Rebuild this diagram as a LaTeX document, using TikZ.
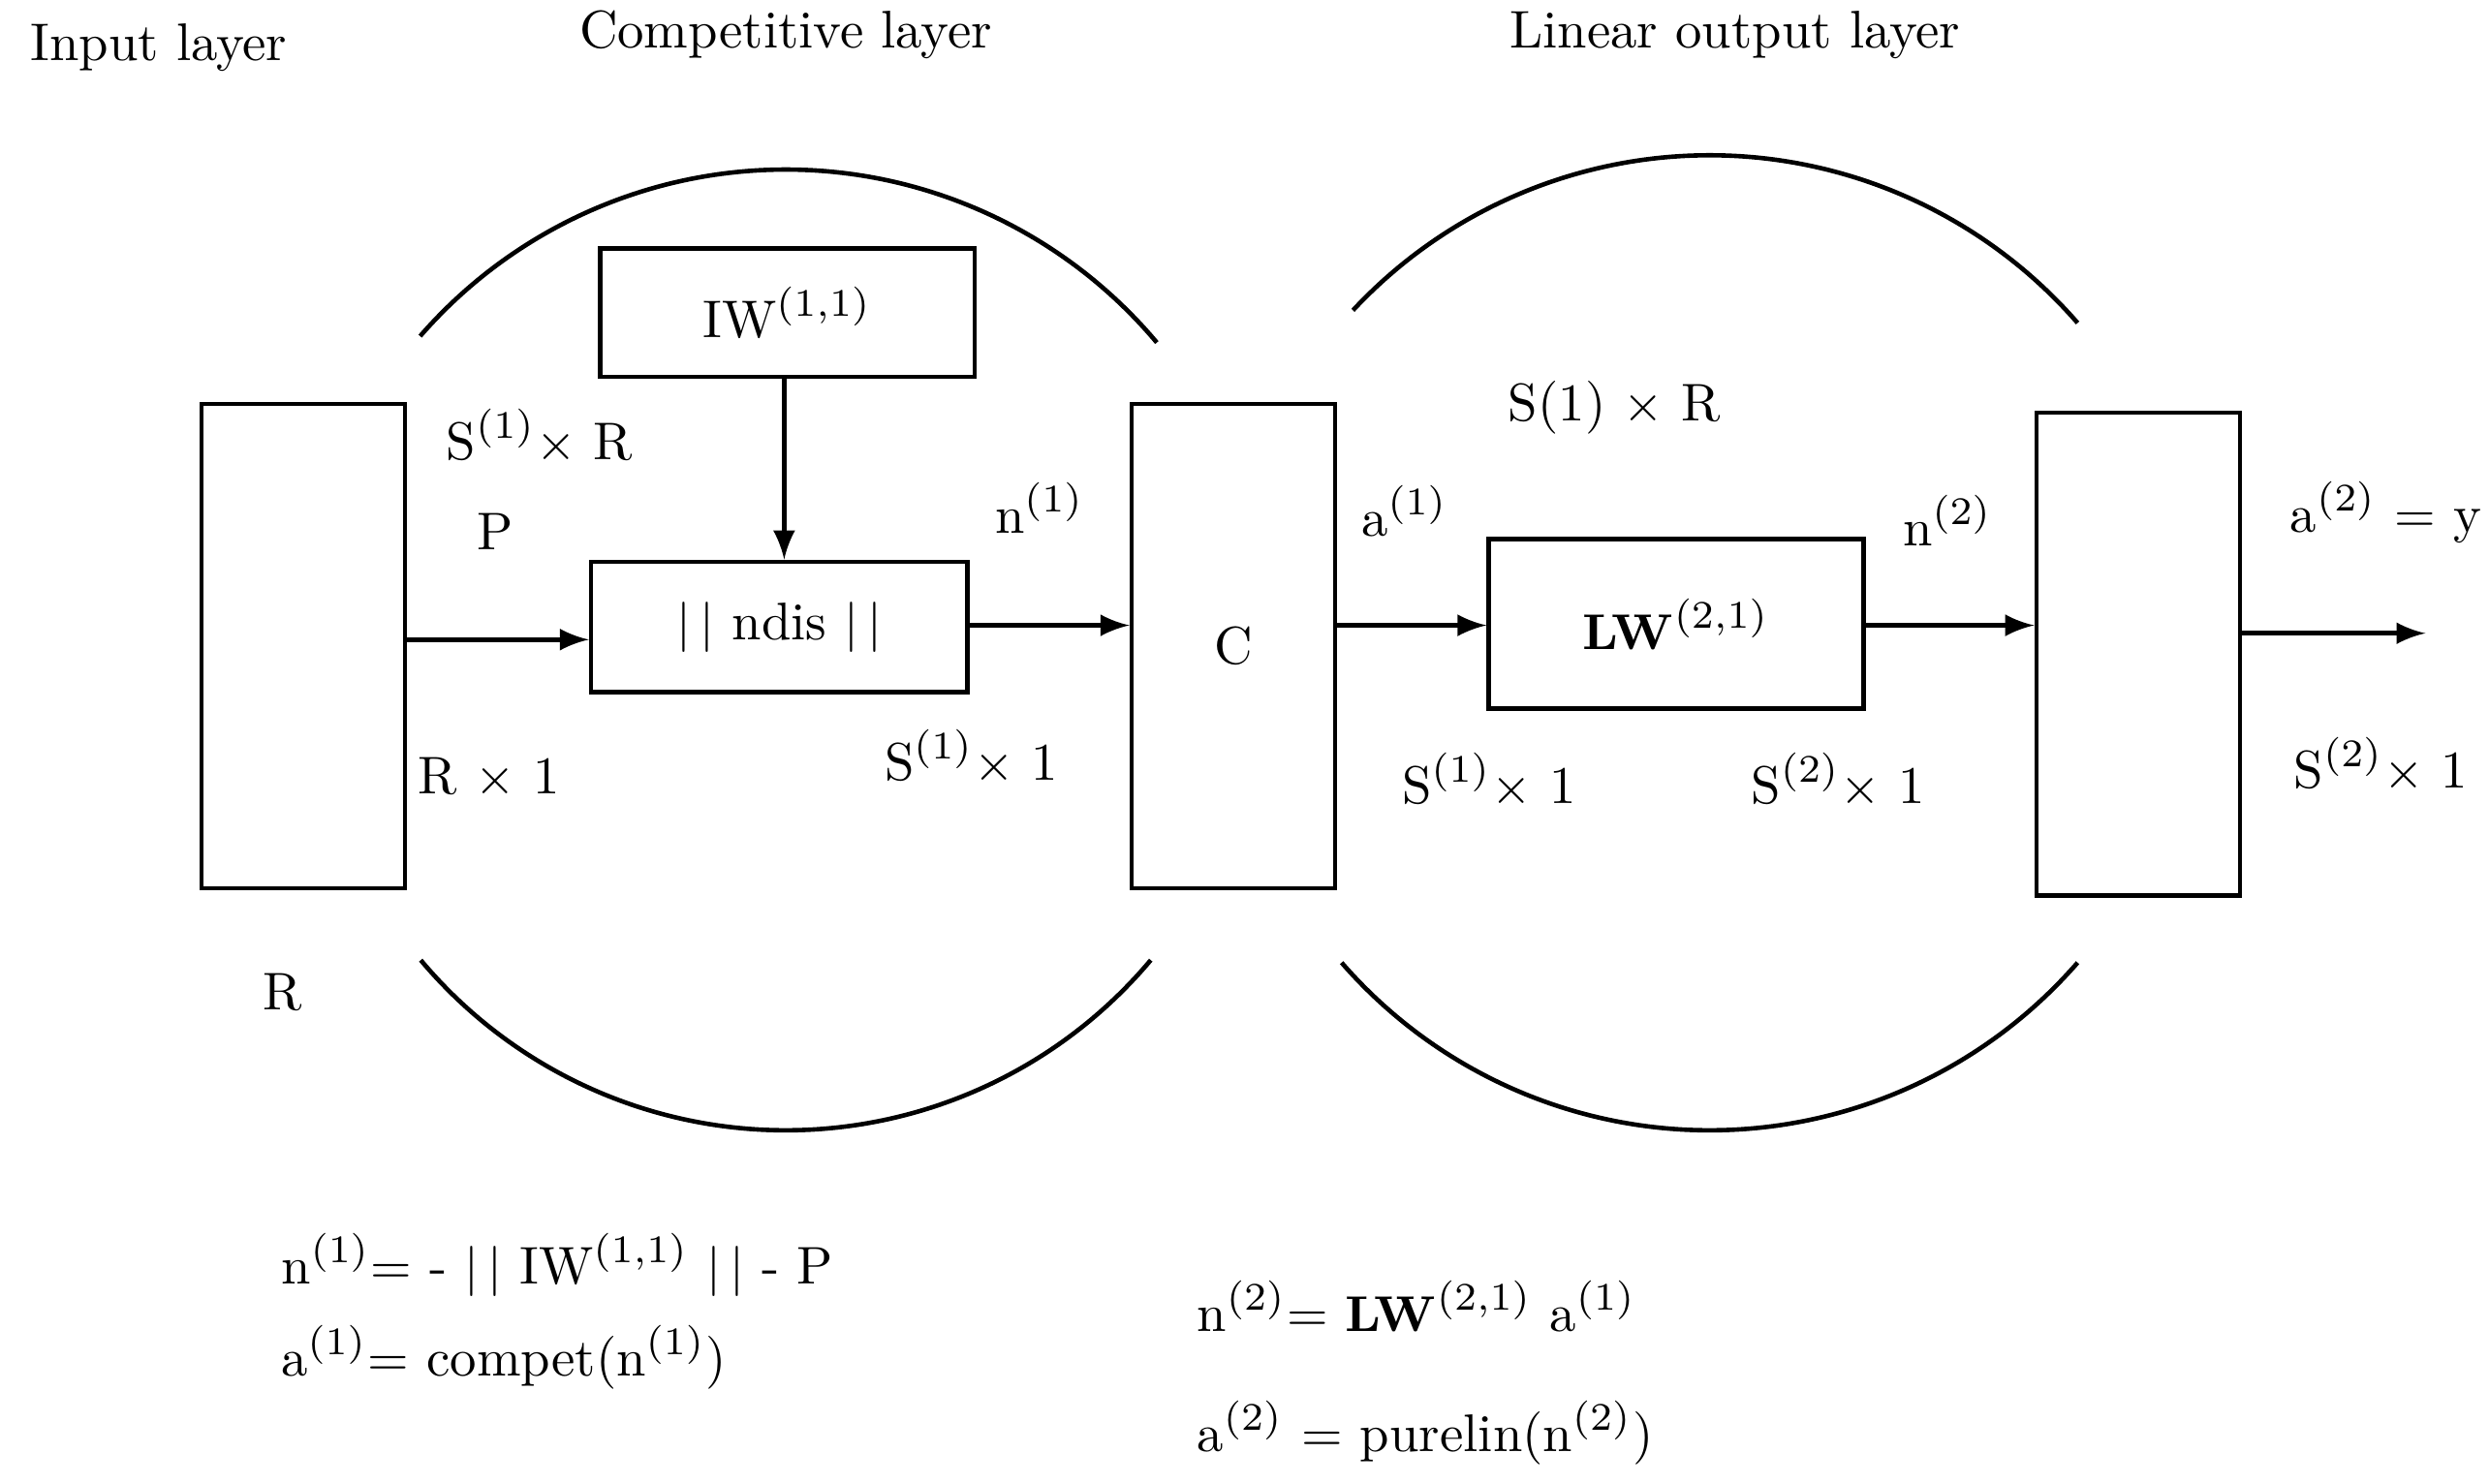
\documentclass[tikz,border=0pt]{standalone}
\usepackage{amsmath}
\usepackage{tikz}
\usetikzlibrary{positioning}

\begin{document}
\begin{tikzpicture}[x=0.01cm, y=-0.01cm, font=\fontsize{9.5}{11}\selectfont,
        box/.style={draw, thick, inner sep=0pt},
        lbl/.style={inner sep=1pt},
        arr/.style={->, >=latex, thick}]
        \useasboundingbox (0,0) rectangle (1568,935);
        % layers
        \node[box, minimum width=1.28cm, minimum height=3.05cm] (in)  at (191,407) {};
        \node[box, minimum width=2.36cm, minimum height=0.81cm] (iw)   at (496,197) {IW$^{(1,1)}$};
        \node[box, minimum width=2.37cm, minimum height=0.82cm] (ndis) at (491,395) {$|\,|$ ndis $|\,|$};
        \node[box, minimum width=1.28cm, minimum height=3.05cm] (c)   at (777,407) {C};
        \node[box, minimum width=2.36cm, minimum height=1.07cm] (lw)   at (1056,393) {$\mathbf{LW}^{(2,1)}$};
        \node[box, minimum width=1.28cm, minimum height=3.04cm] (out) at (1347,412) {};
        \coordinate (y) at (1528,399);
        \coordinate (cl) at (495,412);
        \coordinate (cr) at (1077,405);

        \draw[arr] (in.east |- 0,403) -- (ndis.west |- 0,403);
        \draw[arr] (iw.south -| 494,0) -- (ndis.north -| 494,0);
        \draw[arr] (ndis.east |- 0,394) -- (c.west |- 0,394);
        \draw[arr] (c.east |- 0,394) -- (lw.west |- 0,394);
        \draw[arr] (lw.east |- 0,394) -- (out.west |- 0,394);
        \draw[arr] (out.east |- y) -- (y);

        % arcs
        \draw[thick] (cl) ++(139:3.05cm) arc[start angle=139, end angle=40, radius=3.05cm];
        \draw[thick] (cl) ++(220:3.0cm) arc[start angle=220, end angle=320, radius=3.0cm];
        \draw[thick] (cr) ++(137:3.07cm) arc[start angle=137, end angle=41, radius=3.07cm];
        \draw[thick] (cr) ++(221:3.07cm) arc[start angle=221, end angle=319, radius=3.07cm];

        % labels
        \node[lbl] (t1) at (100,30) {Input layer};
        \node[lbl] (t2) at (495,22) {Competitive layer};
        \node[lbl] (t3) at (1093,22) {Linear output layer};
        \node[lbl] (l1) at (340,275) {S$^{(1)}\times$ R};
        \node[lbl] (l2) at (312,335) {P};
        \node[lbl] (l3) at (655,320) {n$^{(1)}$};
        \node[lbl] (l4) at (308,490) {R $\times$ 1};
        \node[lbl] (l5) at (612,477) {S$^{(1)}\times$ 1};
        \node[lbl] (l6) at (178,625) {R};
        \node[lbl] (l7) at (885,322) {a$^{(1)}$};
        \node[lbl] (l8) at (1017,257) {S(1) $\times$ R};
        \node[lbl] (l9) at (1227,328) {n$^{(2)}$};
        \node[lbl] (l10) at (1503,323) {a$^{(2)}$ = y};
        \node[lbl] (l11) at (938,492) {S$^{(1)}\times$ 1};
        \node[lbl] (l12) at (1158,492) {S$^{(2)}\times$ 1};
        \node[lbl] (l13) at (1500,482) {S$^{(2)}\times$ 1};
        % equations
        \node[lbl, anchor=west] (e1) at (173,797) {n$^{(1)}$= - $|\,|$ IW$^{(1,1)}$ $|\,|$ - P};
        \node[lbl, anchor=west] (e2) at (173,855) {a$^{(1)}$= compet(n$^{(1)}$)};
        \node[lbl, anchor=west] (e3) at (750,823) {n$^{(2)}$= $\mathbf{LW}^{(2,1)}$ a$^{(1)}$};
        \node[lbl, anchor=west] (e4) at (750,903) {a$^{(2)}$ = purelin(n$^{(2)}$)};
\end{tikzpicture}
\end{document}
